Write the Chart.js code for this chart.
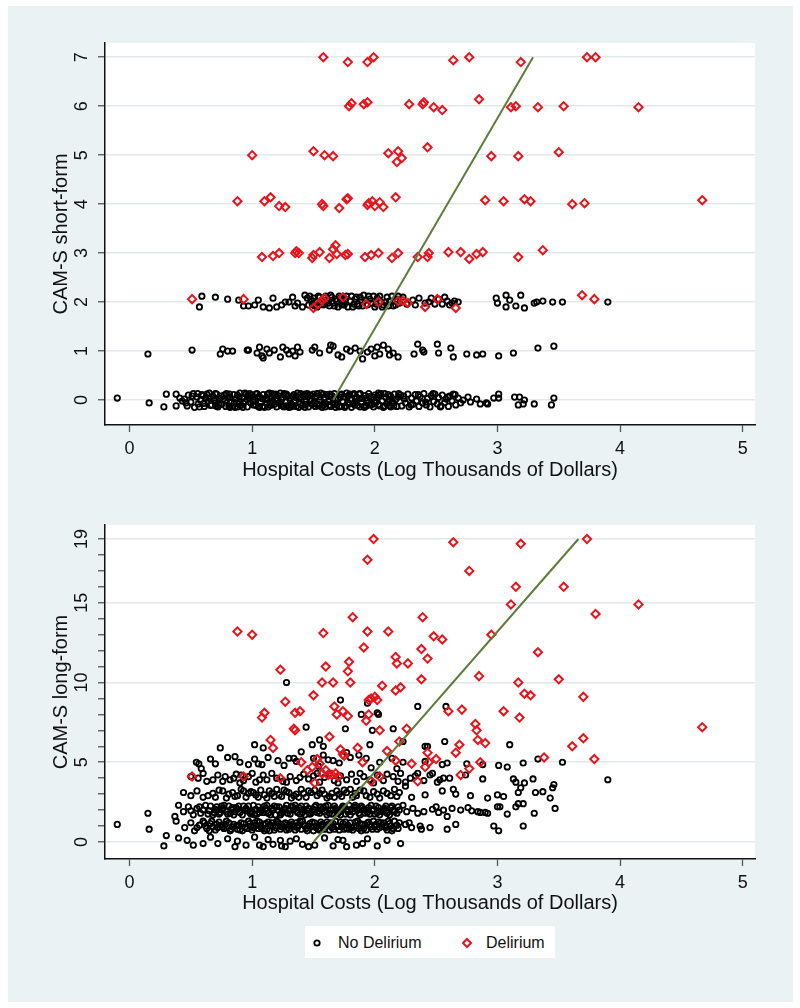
<!DOCTYPE html>
<html><head><meta charset="utf-8">
<script src="https://cdn.jsdelivr.net/npm/chart.js"></script>
<style>
html,body{margin:0;padding:0;background:#fff;width:800px;height:1008px;overflow:hidden;font-family:'Liberation Sans',Arial,sans-serif}
#bg{position:absolute;left:8px;top:6px;width:785px;height:996px;background:#eaf2f3}
#c1{position:absolute;left:8px;top:6px}
#c2{position:absolute;left:8px;top:500px}
#legend{position:absolute;left:305px;top:926px;width:250px;height:32px;background:#fff}
#legend svg{position:absolute;top:10px}
#legend span{position:absolute;top:7px;font-size:16px;line-height:19px;color:#111}
</style></head><body>
<div id="bg"></div>
<canvas id="c1" width="785" height="494"></canvas>
<canvas id="c2" width="785" height="434"></canvas>
<div id="legend">
<svg style="left:6px" width="12" height="14" viewBox="0 0 12 14"><circle cx="6" cy="7" r="2.7" fill="none" stroke="#000" stroke-width="1.8"/></svg><span style="left:33px">No Delirium</span>
<svg style="left:155px" width="14" height="14" viewBox="0 0 14 14"><polygon points="7,3 11,7 7,11 3,7" fill="none" stroke="#e8141c" stroke-width="2"/></svg><span style="left:181px">Delirium</span>
</div>
<script>
// ---------- axis ticks / labels ----------
const xTickValues = [0, 1, 2, 3, 4, 5];
const shortTickValues = [0, 1, 2, 3, 4, 5, 6, 7];
const longTickValues = [0,1,2,3,4,5,6,7,8,9,10,11,12,13,14,15,16,17,18,19];
const longLabelValues = [0, 5, 10, 15, 19];
const xTitle = 'Hospital Costs (Log Thousands of Dollars)';
const shortTitle = 'CAM-S short-form';
const longTitle = 'CAM-S long-form';
const seriesNames = ['No Delirium', 'Delirium'];

// ---------- fitted lines [cost, score] ----------
const shortFit = [[1.66, 0], [3.29, 7]];
const longFit = [[1.50, 0], [3.66, 19]];

// ---------- short form: delirium [cost, score] ----------
const shortDelirium = [
[1.58,7.0],[1.78,6.9],[1.94,6.9],[1.99,7.0],[2.64,6.94],[2.77,7.0],[3.19,6.9],[3.73,7.0],[3.80,7.0],
[1.79,6.0],[1.81,6.06],[1.91,6.04],[1.94,6.08],[2.28,6.04],[2.39,6.04],[2.40,6.08],[2.48,5.98],[2.55,5.92],[2.85,6.14],[3.11,5.98],[3.15,6.0],[3.33,5.98],[3.54,6.0],[4.15,5.98],
[1.00,5.0],[1.50,5.08],[1.59,5.0],[1.66,4.98],[2.11,5.04],[2.18,4.86],[2.19,5.08],[2.22,4.94],[2.43,5.16],[2.95,4.98],[3.17,4.98],[3.50,5.06],
[0.88,4.06],[1.10,4.06],[1.15,4.14],[1.22,3.96],[1.27,3.94],[1.57,4.0],[1.58,3.96],[1.71,3.92],[1.77,4.1],[1.78,4.12],[1.94,3.98],[1.95,4.02],[1.98,4.06],[2.00,3.96],[2.04,4.04],[2.07,3.94],[2.17,4.14],[2.90,4.08],[3.05,4.06],[3.22,4.10],[3.27,4.06],[3.61,4.0],[3.71,4.02],[4.67,4.08],
[1.08,2.92],[1.17,2.94],[1.22,3.0],[1.35,3.0],[1.36,3.04],[1.38,3.0],[1.49,2.9],[1.50,2.96],[1.55,3.02],[1.63,2.9],[1.66,3.08],[1.68,3.16],[1.69,2.98],[1.76,2.96],[1.78,2.98],[1.92,2.92],[1.97,2.96],[2.03,3.0],[2.14,2.9],[2.19,3.0],[2.35,2.92],[2.43,2.92],[2.44,3.0],[2.60,3.02],[2.70,3.02],[2.77,2.88],[2.83,2.98],[2.88,3.02],[3.17,2.92],[3.37,3.06],
[0.51,2.06],[0.93,2.06],[1.50,1.88],[1.54,1.96],[1.57,2.04],[1.59,2.08],[1.74,2.1],[1.93,1.96],[2.03,2.0],[2.19,2.02],[2.23,2.02],[2.27,1.98],[2.41,1.9],[2.51,2.06],[2.66,1.88],[3.69,2.14],[3.79,2.06]
];

// ---------- short form: no delirium [cost, score] ----------
const shortNoDelirium = [
[-0.10,0.04],[0.16,-0.06],[0.28,-0.14],[0.30,0.12],[0.38,-0.12],[0.38,0.12],[0.41,0.04],[0.43,-0.02],
[0.45,0.02],[0.47,-0.12],[0.48,0.1],[0.50,-0.04],[0.52,0.13],[0.53,-0.15],[0.55,0.06],[0.56,-0.08],[0.58,0.0],[0.59,0.11],
[0.61,-0.13],[0.62,0.04],[0.64,-0.02],[0.65,0.14],[0.67,-0.1],[0.68,0.08],[0.70,-0.06],[0.71,0.12],[0.72,-0.14],[0.74,0.03],
[0.75,-0.09],[0.77,0.1],[0.78,-0.01],[0.79,0.13],[0.81,-0.12],[0.82,0.06],[0.83,-0.05],[0.85,0.11],[0.86,-0.15],[0.87,0.02],
[0.89,-0.08],[0.90,0.14],[0.91,-0.11],[0.92,0.05],[0.94,-0.03],[0.95,0.12],[0.96,-0.14],[0.97,0.08],[0.99,-0.06],[1.00,0.1],
[1.01,-0.1],[1.02,0.0],[1.04,0.13],[1.05,-0.13],[1.06,0.07],[1.07,-0.04],[1.09,0.11],[1.10,-0.15],[1.11,0.03],[1.12,-0.08],
[1.14,0.14],[1.15,-0.11],[1.16,0.05],[1.17,-0.02],[1.19,0.12],[1.20,-0.14],[1.21,0.09],[1.22,-0.06],[1.24,0.01],[1.25,-0.12],
[1.26,0.13],[1.27,-0.04],[1.29,0.08],[1.30,-0.15],[1.31,0.04],[1.32,-0.09],[1.34,0.11],[1.35,-0.01],[1.36,-0.13],[1.37,0.14],
[1.39,-0.07],[1.40,0.06],[1.41,-0.11],[1.42,0.1],[1.44,-0.03],[1.45,0.13],[1.46,-0.14],[1.47,0.02],[1.49,-0.09],[1.50,0.12],
[1.51,-0.05],[1.52,0.08],[1.54,-0.12],[1.55,0.0],[1.56,0.14],[1.57,-0.15],[1.59,0.05],[1.60,-0.07],[1.61,0.11],[1.62,-0.02],
[1.64,-0.13],[1.65,0.09],[1.66,-0.06],[1.67,0.13],[1.69,-0.1],[1.70,0.03],[1.71,-0.14],[1.72,0.1],[1.74,-0.04],[1.75,0.07],
[1.76,-0.12],[1.77,0.14],[1.79,-0.08],[1.80,0.01],[1.81,-0.15],[1.82,0.11],[1.84,-0.03],[1.85,0.06],[1.86,-0.11],[1.87,0.12],
[1.89,-0.06],[1.90,0.04],[1.91,-0.13],[1.92,0.09],[1.94,-0.01],[1.95,0.13],[1.96,-0.1],[1.97,0.02],[1.99,-0.14],[2.00,0.1],
[2.01,-0.05],[2.02,0.07],[2.04,-0.12],[2.05,0.13],[2.06,-0.02],[2.07,-0.15],[2.09,0.05],[2.10,-0.08],[2.11,0.11],[2.12,-0.11],
[2.14,0.03],[2.15,-0.06],[2.16,0.12],[2.18,-0.13],[2.19,0.06],
[0.46,-0.06],[0.51,0.08],[0.57,-0.14],[0.63,0.12],[0.69,0.0],[0.73,-0.1],[0.80,0.05],[0.84,-0.13],[0.88,0.1],[0.93,-0.07],
[0.98,0.13],[1.03,-0.11],[1.08,0.03],[1.13,-0.14],[1.18,0.1],[1.23,-0.03],[1.28,0.12],[1.33,-0.12],[1.38,0.02],[1.43,-0.15],
[1.48,0.09],[1.53,-0.08],[1.58,0.12],[1.63,-0.1],[1.68,0.02],[1.73,-0.13],[1.78,0.08],[1.83,-0.07],[1.88,0.13],[1.93,-0.12],
[1.98,0.06],[2.03,-0.09],[2.08,0.13],[2.13,-0.14],[2.17,0.01],
[0.60,0.09],[0.66,-0.11],[0.76,0.01],[0.88,-0.14],[0.98,0.04],[1.03,0.12],[1.13,0.0],[1.18,-0.09],[1.23,0.14],[1.28,-0.12],
[1.33,0.07],[1.38,-0.15],[1.43,0.12],[1.48,-0.02],[1.53,0.13],[1.58,-0.11],[1.63,0.07],[1.68,-0.15],[1.73,0.12],[1.78,-0.05],
[1.83,0.13],[1.88,-0.14],[1.93,0.04],[1.98,-0.09],[2.03,0.14],[2.08,-0.12],[2.13,0.08],[0.70,0.13],[0.82,-0.15],[0.94,0.14],
[1.06,-0.15],[1.16,0.13],[1.26,-0.14],
[0.555,0.13],[0.605,-0.07],[0.655,0.03],[0.705,-0.12],[0.745,0.08],[0.785,-0.13],[0.815,0.12],[0.855,-0.05],[0.895,0.06],[0.925,-0.15],
[0.965,0.1],[1.005,-0.03],[1.045,0.06],[1.085,-0.13],[1.125,0.12],[1.155,-0.06],[1.195,0.03],[1.235,-0.1],[1.275,0.1],[1.315,-0.14],
[1.355,0.05],[1.395,0.13],[1.435,-0.09],[1.475,0.1],[1.515,-0.13],[1.555,0.06],[1.595,-0.14],[1.635,0.12],[1.675,-0.08],[1.715,0.06],
[1.755,-0.15],[1.795,0.12],[1.835,-0.1],[1.875,0.03],[1.915,-0.15],[1.955,0.07],[1.995,-0.04],[2.035,0.1],[2.075,-0.13],[2.115,0.01],
[2.155,-0.12],[2.195,0.13],[2.235,0.08],[2.295,-0.1],[2.355,0.11],[2.415,-0.04],[2.475,0.13],[2.535,-0.14],[2.595,0.06],[2.655,0.11],
[2.21,0.1],[2.22,-0.12],[2.24,0.02],[2.25,-0.06],[2.27,0.12],[2.28,-0.14],[2.30,0.04],[2.31,-0.09],[2.33,0.11],[2.34,-0.02],
[2.36,-0.13],[2.37,0.07],[2.39,-0.06],[2.40,0.13],[2.42,-0.1],[2.43,0.03],[2.45,-0.14],[2.46,0.09],[2.48,-0.03],[2.49,0.12],
[2.51,-0.08],[2.52,0.05],[2.54,-0.12],[2.55,0.1],[2.57,-0.05],[2.58,0.02],[2.60,-0.13],[2.61,0.08],[2.63,-0.02],[2.64,0.12],
[2.66,-0.1],[2.68,0.04],[2.70,-0.06],[2.72,0.0],
[2.76,0.06],[2.78,-0.04],[2.83,0.02],[2.86,-0.08],[2.91,-0.06],[2.92,-0.08],[2.97,0.04],[3.01,0.12],[3.01,0.04],[3.14,0.06],
[3.17,-0.1],[3.18,0.06],[3.21,-0.08],[3.22,0.0],[3.30,-0.08],[3.44,-0.1],[3.46,0.04],
[0.15,0.94],[0.51,1.02],[0.74,0.94],[0.76,1.04],[0.80,1.0],[0.84,1.0],[0.96,1.02],[0.97,1.02],[1.04,0.96],[1.06,1.08],
[1.08,0.9],[1.09,0.86],[1.12,1.04],[1.18,1.02],[1.23,0.88],[1.25,1.08],[1.28,1.02],[1.33,1.0],[1.35,0.9],[1.37,1.08],
[1.39,0.98],[1.49,1.02],[1.51,1.08],[1.55,0.96],[1.63,1.02],[1.64,1.12],[1.73,0.88],[1.77,1.04],[1.80,1.0],[1.84,1.06],
[1.88,1.0],[1.90,0.84],[1.94,0.98],[2.02,1.08],[2.04,0.94],[2.11,1.04],[2.12,0.92],[2.19,0.88],[2.32,0.94],[2.35,1.14],
[2.39,1.02],[2.40,0.98],[2.51,1.14],[2.52,0.96],[2.62,1.06],[2.64,0.88],[2.75,0.94],[2.83,0.92],[2.88,0.94],[3.01,0.9],
[3.13,0.96],[3.33,1.06],[3.46,1.1],[1.66,1.1],[1.70,0.92],[2.00,0.9],[2.07,1.12],[1.97,1.04],[2.15,0.96],[1.30,0.94],[1.14,0.96],
[0.57,1.9],[0.59,2.12],[0.70,2.1],[0.80,2.06],[0.89,2.04],[0.93,1.92],[0.97,1.92],[1.02,1.94],[1.09,1.9],[1.14,1.88],
[1.20,1.9],[1.27,2.0],[1.30,2.0],[1.33,2.1],[1.37,1.98],[1.41,1.9],[1.43,2.14],[1.45,2.08],
[1.47,2.12],[1.49,1.96],[1.50,2.08],[1.52,2.02],[1.53,1.9],[1.55,2.1],[1.56,2.0],[1.58,1.94],[1.60,2.12],[1.61,2.04],
[1.63,1.92],[1.65,2.1],[1.66,1.98],[1.68,2.06],[1.70,1.9],[1.72,2.08],[1.74,2.0],[1.75,1.94],[1.77,2.12],[1.80,2.02],
[1.82,1.9],[1.84,2.06],[1.86,1.96],[1.88,2.1],[1.90,1.92],[1.92,2.04],[1.95,2.12],[1.97,1.98],[2.00,1.9],[2.02,2.08],
[2.05,2.0],[2.07,1.94],[2.10,2.1],[2.12,2.02],[2.15,1.92],[2.18,2.06],[2.20,1.98],
[1.46,1.94],[1.48,2.04],[1.51,1.92],[1.54,2.12],[1.57,1.96],[1.59,2.08],[1.62,1.98],[1.64,2.14],[1.67,1.92],[1.69,2.02],
[1.71,2.12],[1.73,1.94],[1.76,2.06],[1.78,1.9],[1.81,2.12],[1.83,1.96],[1.85,2.1],[1.87,1.92],[1.89,2.04],[1.91,2.14],
[1.94,1.94],[1.96,2.06],[1.99,2.12],[2.01,1.96],[2.04,2.12],[2.06,1.9],[2.09,2.0],[2.11,1.92],[2.14,2.12],[2.17,1.94],
[2.19,2.12],[1.05,2.04],[1.17,2.08],[1.24,1.94],[1.35,1.92],
[2.23,2.1],[2.26,1.96],[2.31,2.04],[2.33,1.94],[2.36,2.08],[2.41,1.98],[2.44,2.0],[2.46,2.08],[2.49,1.96],[2.52,2.06],
[2.55,1.96],[2.57,2.1],[2.59,2.02],[2.61,1.94],[2.63,1.98],[2.65,2.02],[2.68,2.0],
[2.99,2.08],[3.00,1.98],[3.07,2.14],[3.07,1.9],[3.10,2.04],[3.15,1.92],[3.19,2.14],[3.22,1.88],[3.30,1.98],[3.32,2.0],
[3.37,2.02],[3.45,2.0],[3.53,2.0],[3.90,2.0]
];

// ---------- long form: delirium [cost, score] ----------
const longDelirium = [
[1.99,19.0],[1.94,17.7],[1.82,14.1],[0.88,13.2],[1.00,13.0],[1.58,13.1],[1.94,13.2],[2.11,13.2],[1.91,12.2],[2.17,11.6],
[2.18,11.2],[1.79,11.3],[1.78,10.7],[1.60,11.0],[1.23,10.8],[1.57,10.0],[1.66,10.0],[1.80,10.0],[2.06,9.8],[2.17,9.5],
[1.50,9.2],[1.95,8.9],[1.97,9.0],[2.00,9.1],[2.02,8.9],[1.27,8.8],[1.67,8.5],[1.74,8.2],[1.08,7.8],[1.10,8.1],
[1.35,8.1],[1.39,8.2],[1.69,8.0],[1.78,7.9],[1.93,7.6],[1.95,8.0],[1.34,7.1],[1.35,7.0],[2.04,7.0],[1.63,6.6],
[1.15,6.4],[1.17,5.9],
[2.64,18.8],[3.19,18.7],[3.73,19.0],[2.77,17.0],[3.15,16.0],[3.54,16.0],[3.11,14.9],[4.15,14.9],[3.80,14.3],[2.39,14.1],
[2.95,13.0],[2.48,12.9],[2.55,12.7],[2.38,12.1],[2.43,11.5],[2.27,11.2],[3.33,11.9],[2.85,10.4],[2.38,10.2],[2.21,9.7],
[3.17,10.0],[3.50,10.2],[3.22,9.3],[3.27,9.2],[3.70,9.1],[2.60,8.2],[2.71,8.3],[3.05,8.2],[3.18,7.8],[2.82,7.4],
[2.83,7.0],[2.84,6.4],[2.90,6.2],[2.26,7.1],[4.67,7.2],[3.70,6.5],[3.61,6.0],[2.69,6.1],
[0.51,4.1],[0.93,4.1],[1.23,4.0],[1.49,4.7],[1.51,3.7],[1.55,4.9],[1.57,4.3],[1.62,4.2],[1.65,4.2],[1.74,5.5],
[1.75,5.4],[1.97,3.8],[2.04,4.1],[2.17,5.1],[2.35,3.8],[2.41,4.7],[2.43,5.6],[2.44,5.0],[2.50,5.2],[2.66,5.6],
[2.70,4.2],[2.77,4.6],[2.86,5.0],[3.38,5.3],[3.79,5.2],
[1.53,5.2],[1.60,4.5],[1.68,4.3],[1.72,5.8],[1.86,5.9],[1.90,5.0],[2.10,5.7],[2.20,6.3],[2.30,4.9],[1.40,5.0],[1.45,4.5],[1.70,4.1]
];

// ---------- long form: no delirium [cost, score] ----------
const longNoDelirium = [
[0.28,-0.25],[0.30,0.4],[0.40,0.25],[0.47,0.1],[0.60,-0.1],[0.72,-0.1],[0.80,0.2],[0.86,-0.3],[0.88,0.05],[0.95,-0.2],
[1.02,0.3],[1.06,-0.2],[1.09,-0.3],[1.13,0.15],[1.23,0.1],[1.24,-0.25],[1.27,-0.3],[1.31,0.05],[1.41,-0.15],[1.51,-0.2],
[1.59,0.25],[1.66,-0.25],[1.74,0.1],[1.77,-0.3],[1.90,-0.1],[1.94,0.2],[2.02,-0.25],[2.21,-0.1],
[0.52,-0.2],[0.66,0.3],[1.17,-0.15],[1.36,0.2],[1.46,-0.3],[1.70,0.15],[1.85,-0.2],[2.10,0.1],
[-0.10,1.1],[0.16,0.8],[0.38,1.3],[0.45,0.9],[0.50,1.2],[0.53,0.7],[0.57,1.05],[0.60,1.3],[0.63,0.85],[0.66,1.15],
[0.70,0.75],[0.73,1.25],[0.76,0.95],[0.79,1.3],[0.82,0.7],[0.85,1.1],[0.88,0.8],[0.91,1.2],[0.94,0.9],[0.97,1.3],
[1.00,0.75],[1.03,1.05],[1.06,1.25],[1.08,0.85],[1.11,1.15],[1.14,0.7],[1.17,1.0],[1.20,1.3],[1.23,0.8],[1.26,1.1],
[1.29,0.9],[1.32,1.25],[1.35,0.75],[1.38,1.05],[1.41,1.3],[1.44,0.85],[1.47,1.15],[1.50,0.7],[1.53,1.0],[1.56,1.25],
[1.59,0.8],[1.62,1.1],[1.65,0.9],[1.68,1.3],[1.71,0.75],[1.74,1.15],[1.77,0.85],[1.80,1.2],[1.83,0.95],[1.86,1.3],
[1.89,0.7],[1.92,1.05],[1.95,1.25],[1.98,0.8],[2.01,1.1],[2.04,0.9],[2.07,1.2],[2.10,0.75],[2.13,1.0],[2.16,1.3],
[2.19,0.85],[2.25,1.1],[2.30,0.9],[2.37,1.0],[2.38,0.8],[2.59,0.8],[2.97,1.0],[3.01,0.7],[3.21,1.0],
[0.68,0.95],[0.75,1.05],[0.87,1.0],[0.99,0.95],[1.05,0.85],[1.16,1.2],[1.25,1.0],[1.34,0.95],[1.42,1.1],[1.52,0.9],
[1.61,1.25],[1.70,1.0],[1.79,0.8],[1.88,1.15],[1.97,0.95],[2.06,1.05],[2.14,0.7],
[0.55,0.9],[0.61,1.2],[0.65,0.7],[0.71,1.1],[0.77,0.85],[0.81,1.2],[0.84,0.95],[0.90,0.75],[0.93,1.15],[0.96,0.85],
[1.02,1.2],[1.07,0.95],[1.10,0.7],[1.13,1.25],[1.19,0.9],[1.22,1.15],[1.28,0.75],[1.31,1.05],[1.36,1.2],[1.40,0.8],
[1.46,1.0],[1.49,1.25],[1.55,0.75],[1.58,1.05],[1.64,1.2],[1.67,0.8],[1.73,0.95],[1.76,1.25],[1.82,0.75],[1.85,1.0],
[1.91,0.85],[1.94,1.2],[2.00,0.95],[2.03,1.25],[2.09,0.9],[2.12,1.15],[2.18,1.05],[2.28,1.2],[2.45,0.9],[2.66,1.1],
[0.62,1.0],[0.67,1.3],[0.72,0.9],[0.78,1.1],[0.83,0.8],[0.89,1.05],[0.92,0.7],[0.98,1.15],[1.01,0.9],[1.04,1.3],
[1.09,1.1],[1.12,0.8],[1.15,1.05],[1.18,0.75],[1.21,1.25],[1.24,0.95],[1.27,1.2],[1.30,0.8],[1.33,1.1],[1.37,0.9],
[1.39,1.3],[1.43,1.0],[1.45,0.7],[1.48,0.95],[1.51,1.2],[1.54,0.85],[1.57,1.1],[1.60,0.95],[1.63,0.75],[1.66,1.15],
[1.69,0.95],[1.72,1.25],[1.75,0.8],[1.78,1.05],[1.81,0.9],[1.84,1.25],[1.87,0.85],[1.90,1.1],[1.93,0.75],[1.96,1.1],
[1.99,1.3],[2.02,0.8],[2.05,1.2],[2.08,0.95],[2.11,1.3],[2.15,0.85],[2.20,1.2],
[0.15,1.8],[0.37,1.6],[0.40,2.3],[0.44,1.9],[0.48,2.2],[0.52,1.7],[0.55,2.1],[0.58,1.8],[0.62,2.3],[0.65,1.95],
[0.68,1.7],[0.71,2.2],[0.74,1.85],[0.77,2.3],[0.80,1.75],[0.83,2.05],[0.86,1.9],[0.89,2.25],[0.92,1.7],[0.95,2.1],
[0.98,1.85],[1.01,2.3],[1.04,1.75],[1.07,2.0],[1.10,2.25],[1.13,1.8],[1.16,2.1],[1.19,1.7],[1.22,2.2],[1.25,1.9],
[1.28,2.3],[1.31,1.75],[1.34,2.05],[1.37,1.85],[1.40,2.25],[1.43,1.7],[1.46,2.1],[1.49,1.9],[1.52,2.3],[1.55,1.8],
[1.58,2.15],[1.61,1.7],[1.64,2.0],[1.67,2.25],[1.70,1.8],[1.73,2.1],[1.76,1.75],[1.79,2.3],[1.82,1.9],[1.85,2.2],
[1.88,1.7],[1.91,2.05],[1.94,1.85],[1.97,2.3],[2.00,1.75],[2.03,2.15],[2.06,1.9],[2.09,2.25],[2.12,1.7],[2.15,2.0],
[2.18,1.8],[2.23,2.3],[2.26,1.9],[2.31,2.1],[2.35,1.8],[2.47,2.05],[2.50,2.2],[2.52,1.85],[2.56,2.0],[2.59,1.6],
[2.63,2.1],[2.76,2.15],[2.79,1.95],[2.84,1.9],[2.86,1.85],[2.90,1.85],[2.92,1.8],[3.00,2.2],[3.02,2.2],[3.08,1.75],
[3.15,2.2],[3.17,2.4],[3.21,2.4],[3.30,1.8],[3.47,2.1],
[0.72,2.0],[0.84,2.15],[0.96,1.95],[1.09,1.85],[1.21,2.0],[1.33,2.2],[1.45,1.95],[1.57,2.05],[1.69,1.95],[1.81,2.05],
[1.93,2.0],[2.05,1.95],
[0.50,1.95],[0.57,2.2],[0.64,1.75],[0.70,2.05],[0.75,2.25],[0.79,1.9],[0.85,1.7],[0.88,2.05],[0.93,2.25],[0.99,1.75],
[1.03,2.05],[1.06,1.85],[1.11,2.1],[1.15,1.7],[1.18,2.25],[1.24,1.8],[1.27,2.1],[1.30,1.95],[1.35,2.3],[1.39,1.75],
[1.42,2.05],[1.48,1.8],[1.51,2.2],[1.54,1.95],[1.60,2.25],[1.63,1.8],[1.66,2.05],[1.72,1.7],[1.75,2.2],[1.78,1.9],
[1.84,2.3],[1.87,1.8],[1.90,2.15],[1.96,1.75],[1.99,2.05],[2.02,1.85],[2.08,2.1],[2.11,1.9],[2.14,2.25],[2.20,2.0],
[2.40,1.9],[2.70,2.0],
[0.60,2.0],[0.66,2.25],[0.69,1.85],[0.73,1.75],[0.76,2.1],[0.81,2.25],[0.82,1.8],[0.87,2.15],[0.90,1.85],[0.94,2.0],
[0.97,2.25],[1.00,1.9],[1.02,1.7],[1.05,2.2],[1.08,1.95],[1.12,2.3],[1.14,1.85],[1.17,2.0],[1.20,2.2],[1.23,1.7],
[1.26,2.05],[1.29,1.8],[1.32,2.25],[1.36,1.95],[1.38,2.15],[1.41,1.85],[1.44,2.25],[1.47,1.75],[1.50,2.05],[1.53,1.85],
[1.56,2.2],[1.59,1.9],[1.62,2.3],[1.65,1.75],[1.68,2.1],[1.71,1.9],[1.74,2.25],[1.77,2.05],[1.80,1.7],[1.83,2.15],
[1.86,2.0],[1.89,2.25],[1.92,1.8],[1.95,2.15],[1.98,1.95],[2.01,2.25],[2.04,1.7],[2.07,2.05],[2.10,1.8],[2.13,2.15],
[2.16,1.9],[2.19,2.2],
[0.44,3.1],[0.50,2.9],[0.55,3.2],[0.60,2.8],[0.68,3.05],[0.73,3.25],[0.79,2.75],[0.84,3.1],[0.88,2.9],[0.91,3.3],
[0.95,2.8],[0.99,3.15],[1.03,2.95],[1.07,3.25],[1.12,2.75],[1.16,3.05],[1.20,3.3],[1.24,2.85],[1.28,3.15],[1.32,2.75],
[1.36,3.0],[1.40,3.3],[1.44,2.8],[1.48,3.1],[1.53,2.9],[1.57,3.25],[1.61,2.75],[1.65,3.05],[1.69,3.2],[1.73,2.85],
[1.77,3.1],[1.82,2.8],[1.88,3.25],[1.93,2.9],[1.99,3.15],[2.04,2.75],[2.10,3.05],[2.16,3.3],[2.25,3.5],[2.41,2.95],
[2.64,3.3],[2.66,3.0],[2.78,2.9],[2.92,2.75],[3.00,2.95],[3.05,2.85],[3.17,3.1],[3.19,3.4],[3.31,3.1],[3.37,3.15],
[3.43,2.75],[3.45,3.4],[3.46,3.6],
[0.64,2.9],[0.76,3.2],[0.86,2.85],[0.97,3.05],[1.05,2.8],[1.14,3.2],[1.22,2.95],[1.30,3.1],[1.38,2.8],[1.46,3.2],
[1.55,3.05],[1.63,2.85],[1.71,3.0],[1.80,3.3],[1.85,2.9],[1.96,2.8],[2.07,3.2],[2.13,2.9],[2.20,3.1],[2.30,2.8],[2.55,3.2],
[0.70,2.8],[0.81,3.0],[0.93,3.2],[1.01,3.1],[1.10,2.95],[1.18,2.85],[1.26,3.25],[1.34,2.9],[1.42,3.05],[1.51,3.25],
[1.59,3.0],[1.67,2.8],[1.75,3.25],[1.84,3.05],[1.91,3.2],[2.02,3.0],[2.18,2.85],
[0.50,4.1],[0.63,3.8],[0.72,4.2],[0.82,3.9],[0.87,4.25],[0.93,3.85],[0.97,4.1],[1.03,3.75],[1.09,4.2],[1.12,3.9],
[1.16,4.3],[1.25,3.8],[1.31,4.1],[1.36,3.85],[1.42,4.25],[1.46,3.95],[1.50,4.15],[1.55,3.75],[1.59,4.05],[1.63,4.3],
[1.67,3.85],[1.72,4.15],[1.77,3.9],[1.81,4.25],[1.85,3.8],[1.91,4.1],[1.96,3.9],[2.02,4.2],[2.07,3.85],[2.15,4.1],
[2.19,3.8],[2.21,4.3],[2.25,3.75],[2.29,4.0],[2.33,4.15],[2.35,4.3],[2.45,4.2],[2.47,4.3],[2.51,3.75],[2.53,3.9],
[2.56,4.0],[2.61,4.0],[2.74,4.2],[2.88,3.95],[3.13,3.95],[3.15,3.75],[3.22,3.7],[3.29,3.95],[3.90,3.9],
[0.68,3.9],[0.78,4.1],[0.90,3.7],[1.00,4.3],[1.06,3.9],[1.20,4.0],[1.28,3.75],[1.39,4.05],[1.53,4.3],[1.70,3.7],
[1.88,4.3],[1.99,3.7],[2.10,4.25],[2.40,3.85],
[0.56,4.0],[0.60,4.3],[0.76,3.8],[0.85,4.0],[0.91,4.2],
[0.545,5.0],[0.565,4.9],[0.585,4.6],[0.80,5.3],[0.86,5.35],[0.97,4.85],[1.02,5.2],[1.05,4.9],[1.08,4.85],[1.21,5.1],
[1.30,5.25],[1.34,5.25],[1.36,5.05],[1.40,5.65],[1.50,5.25],[1.54,4.75],[1.58,5.45],[1.62,5.15],[1.66,5.1],[1.71,4.95],
[1.77,5.6],[1.80,5.3],[1.87,5.45],[1.93,5.25],[1.97,4.65],[2.04,5.0],[2.14,5.25],[2.18,4.6],[2.23,5.0],[2.41,5.05],
[2.55,4.85],[2.59,4.95],[2.75,4.9],[2.88,4.85],[3.01,4.8],[3.08,4.7],[3.21,4.95],[3.33,5.2],[3.53,5.0],
[0.66,5.2],[0.70,4.9],[0.90,5.0],[1.13,5.3],[1.26,4.8],
[0.74,5.9],[1.02,6.1],[1.09,5.9],[1.49,6.1],[1.55,6.4],[1.58,6.0],[1.96,6.1],[2.23,6.3],[2.41,6.0],[2.43,6.0],
[2.57,6.3],[3.10,6.1],
[1.28,10.0],[1.72,8.9],[1.94,8.7],[1.89,8.0],[2.02,8.1],[2.03,8.0],[2.35,8.5],[2.58,8.5],[1.76,7.1],[1.44,7.2],
[1.98,7.0],[2.15,7.1]
];

// ---------- rendering ----------
Chart.defaults.font.family = "'Liberation Sans', Arial, sans-serif";
const BLACK = '#000000', RED = '#e8141c', FIT = '#5e7d3a', GRID = '#e1e9eb', TICK = '#555555', TEXT = '#111111';
const pts = arr => arr.map(([x, y]) => ({x, y}));

const plotBg = {
  id: 'plotBg',
  beforeDraw(chart) {
    const {ctx, chartArea: a} = chart;
    ctx.save(); ctx.fillStyle = '#ffffff';
    ctx.fillRect(a.left, a.top, a.right - a.left, a.bottom - a.top);
    ctx.restore();
  }
};

function xScale(titlePad) {
  return {
    type: 'linear', min: -0.2, max: 5.1, bounds: 'data',
    afterBuildTicks: s => { s.ticks = xTickValues.map(v => ({value: v})); },
    afterFit: s => { s.height = 75; },
    grid: {drawOnChartArea: false, drawTicks: true, tickLength: 7, tickColor: TICK, tickWidth: 1.3},
    border: {display: true, color: TEXT, width: 1.5},
    ticks: {autoSkip: false, maxRotation: 0, padding: 6, color: TEXT, font: {size: 18}, callback: v => String(v)},
    title: {display: true, text: xTitle, color: TEXT, font: {size: 20, lineHeight: 1.2}, padding: {top: 0, bottom: titlePad}}
  };
}
function yScale(min, max, ticks, labels, title, pad) {
  return {
    type: 'linear', min, max, bounds: 'data',
    afterBuildTicks: s => { s.ticks = ticks.map(v => ({value: v})); },
    afterFit: s => { s.width = 97; },
    grid: {drawTicks: true, tickLength: 7, tickWidth: 1.3, tickColor: TICK, lineWidth: 1.5,
           color: c => (c.tick && labels.includes(c.tick.value)) ? GRID : 'rgba(0,0,0,0)'},
    border: {display: true, color: TEXT, width: 1.5},
    ticks: {autoSkip: false, minRotation: 90, maxRotation: 90, crossAlign: 'center', padding: pad,
            color: TEXT, font: {size: 18}, callback: v => labels.includes(v) ? String(v) : ''},
    title: {display: true, text: title, color: TEXT, font: {size: 20, lineHeight: 1.2}, padding: {top: 41, bottom: 0}}
  };
}
function datasets(noDel, del, fit) {
  return [
    {label: 'fit', data: pts(fit), showLine: true, pointRadius: 0, borderColor: FIT, borderWidth: 2, order: 0},
    {label: seriesNames[1], data: pts(del), pointStyle: 'rectRot', pointRadius: 4.1, borderWidth: 2,
     borderColor: RED, backgroundColor: 'rgba(0,0,0,0)', order: 1},
    {label: seriesNames[0], data: pts(noDel), pointStyle: 'circle', pointRadius: 2.7, borderWidth: 1.8,
     borderColor: BLACK, backgroundColor: 'rgba(0,0,0,0)', order: 2}
  ];
}
function make(id, top, noDel, del, fit, yS, titlePad) {
  return new Chart(document.getElementById(id), {
    type: 'scatter',
    data: {datasets: datasets(noDel, del, fit)},
    options: {
      responsive: false, animation: false, devicePixelRatio: 1, events: [],
      layout: {padding: {left: 0, right: 38, top: top, bottom: 0}},
      plugins: {legend: {display: false}, tooltip: {enabled: false}},
      scales: {x: xScale(titlePad), y: yS}
    },
    plugins: [plotBg]
  });
}
make('c1', 37, shortNoDelirium, shortDelirium, shortFit,
     yScale(-0.51, 7.29, shortTickValues, shortTickValues, shortTitle, 11), 18);
make('c2', 25, longNoDelirium, longDelirium, longFit,
     yScale(-1.07, 19.88, longTickValues, longLabelValues, longTitle, 6), 19);
</script>
</body></html>
